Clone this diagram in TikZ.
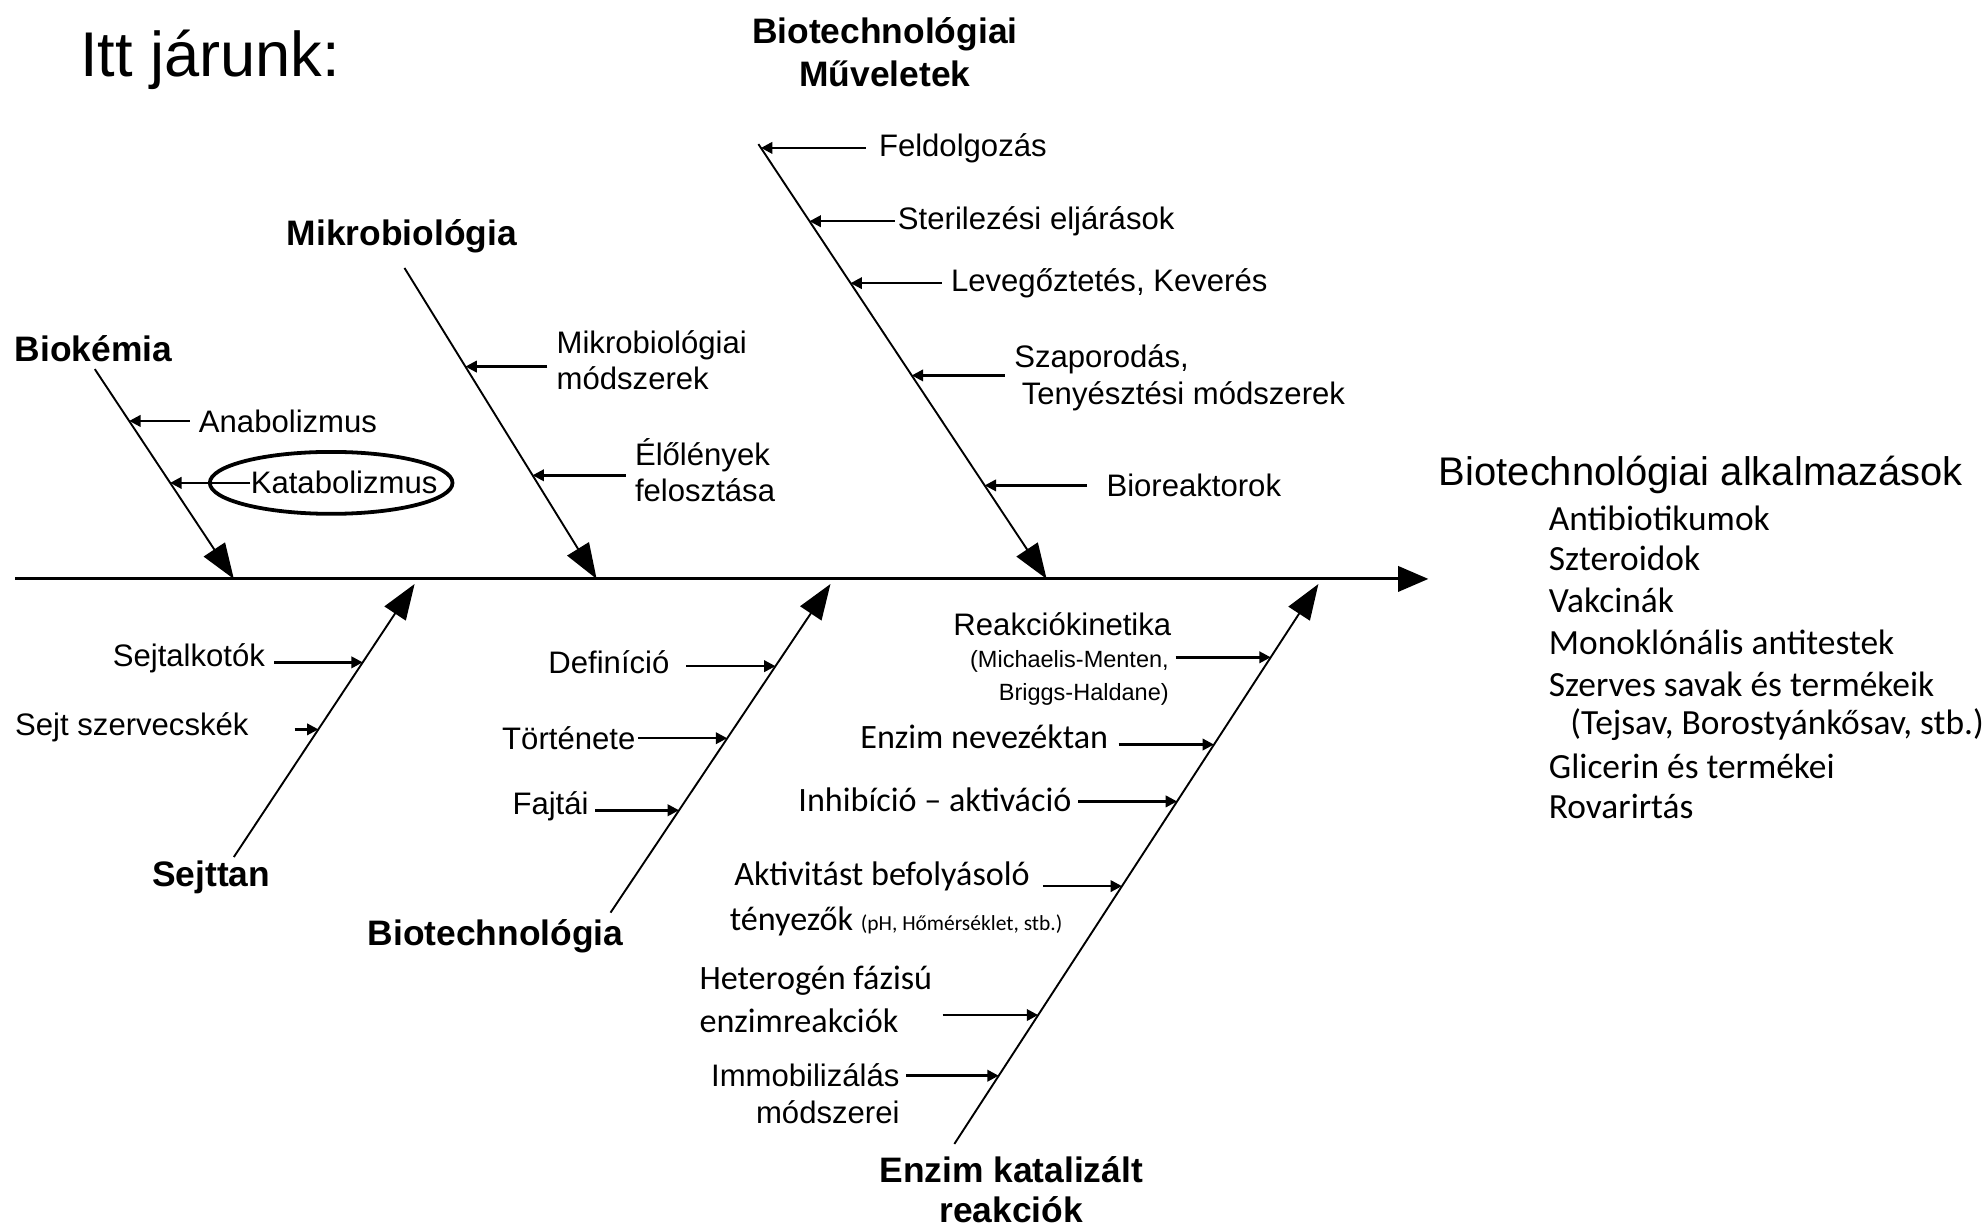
\documentclass[tikz,border=0pt]{standalone}
\usepackage{fontspec}
\setmainfont{Liberation Sans}
\newfontfamily\calib{Carlito}
\usetikzlibrary{arrows.meta,shapes.geometric}
\begin{document}
\begin{tikzpicture}[x=0.5pt,y=-0.5pt,
  branch/.style={line width=0.75pt,-{Triangle[length=14pt,width=10pt]}},
  spine/.style={line width=1.2pt,-{Triangle[length=12pt,width=10pt]}},
  sub/.style={line width=1pt,-{Triangle[length=4.5pt,width=4.5pt]}},
  head/.style={font=\bfseries\fontsize{14}{17}\selectfont,inner sep=0pt,align=center},
  sm/.style={font=\fontsize{12.3}{14.5}\selectfont,inner sep=0pt},
  cb/.style={font=\calib\fontsize{13.5}{17}\selectfont,inner sep=0pt},
  lst/.style={font=\calib\fontsize{14}{17}\selectfont,inner sep=0pt,anchor=west}]
\useasboundingbox (0,0) rectangle (1568,970);

% title
\node[font=\fontsize{25}{30}\selectfont,inner sep=0pt,anchor=west] (title) at (63,47) {Itt járunk:};

% spine
\coordinate (sp0) at (12,458);
\coordinate (sp1) at (1130,458);
\draw[spine] (sp0) -- (sp1);

% branch coordinates
\coordinate (s1) at (75,292);   \coordinate (t1) at (185,458);
\coordinate (s2) at (320,212);  \coordinate (t2) at (472,458);
\coordinate (s3) at (600,114);  \coordinate (t3) at (828,458);
\coordinate (s4) at (185,678);  \coordinate (t4) at (328,462);
\coordinate (s5) at (483,722);  \coordinate (t5) at (657,462);
\coordinate (s6) at (755,905);  \coordinate (t6) at (1043,462);
\draw[branch] (s1) -- (t1);
\draw[branch] (s2) -- (t2);
\draw[branch] (s3) -- (t3);
\draw[branch] (s4) -- (t4);
\draw[branch] (s5) -- (t5);
\draw[branch] (s6) -- (t6);

% headings
\node[head] (biokem) at (74,276) {Biokémia};
\node[head] (mikro) at (318,187) {Mikrobiológia};
\node[head] (muv) at (700,41) {Biotechnológiai\\Műveletek};
\node[head] (sejttan) at (167,694) {Sejttan};
\node[head] (biotech) at (392,741) {Biotechnológia};
\node[head,font=\bfseries\fontsize{14}{16}\selectfont] (enzim) at (800,941) {Enzim katalizált\\reakciók};

% Biokémia
\coordinate (p11) at (102.2,333);
\coordinate (p12) at (134.6,382);
\node[sm,anchor=west] (anab) at (157,333) {Anabolizmus};
\node[sm,anchor=west] (katab) at (198,382) {Katabolizmus};
\node[draw,ellipse,line width=1.5pt,minimum width=96pt,minimum height=24.5pt,inner sep=0pt] (circ) at (262,382) {};
\draw[sub] ([xshift=-3.5pt]anab.west) -- (p11);
\draw[sub] (katab.west) -- (p12);

% Mikrobiológia
\coordinate (p21) at (368.2,290);
\coordinate (p22) at (421.3,376);
\node[sm,anchor=west,align=left] (mikmod) at (440,285) {Mikrobiológiai\\módszerek};
\node[sm,anchor=west,align=left] (elo) at (502,372) {Élőlények\\felosztása};
\draw[sub] ([xshift=-3.5pt]mikmod.west |- p21) -- (p21);
\draw[sub] ([xshift=-3.5pt]elo.west |- p22) -- (p22);

% Biotechnológiai Műveletek
\coordinate (p31) at (602,117);
\coordinate (p32) at (640.4,175);
\coordinate (p33) at (672.9,224);
\coordinate (p34) at (721.3,297);
\coordinate (p35) at (779,384);
\node[sm,anchor=west] (feld) at (695,117) {Feldolgozás};
\node[sm,anchor=west] (steril) at (710,175) {Sterilezési eljárások};
\node[sm,anchor=west] (levego) at (752,224) {Levegőztetés, Keverés};
\node[sm,anchor=west,align=left] (szap) at (802,299) {Szaporodás,\\\hspace*{3pt}Tenyésztési módszerek};
\node[sm,anchor=west] (biore) at (875,384) {Bioreaktorok};
\draw[sub] ([xshift=-5pt]feld.west) -- (p31);
\draw[sub] ([xshift=-1pt]steril.west) -- (p32);
\draw[sub] ([xshift=-3.5pt]levego.west) -- (p33);
\draw[sub] ([xshift=-3.5pt]szap.west |- p34) -- (p34);
\draw[sub] ([xshift=-7.5pt]biore.west) -- (p35);

% Sejttan
\coordinate (p41) at (287,524);
\coordinate (p42) at (251.9,577);
\node[sm,anchor=east] (sejtalk) at (210,521) {Sejtalkotók};
\node[sm,anchor=east] (sejtsz) at (197,575) {Sejt szervecskék};
\draw[sub] ([xshift=3.5pt]sejtalk.east |- p41) -- (p41);
\draw[sub] ([xshift=18pt]sejtsz.east |- p42) -- (p42);

% Biotechnológia
\coordinate (p51) at (613.5,527);
\coordinate (p52) at (575.3,584);
\coordinate (p53) at (537.2,641);
\node[sm,anchor=east] (defin) at (530,524) {Definíció};
\node[sm,anchor=east] (tort) at (503,584) {Története};
\node[sm,anchor=east] (fajt) at (466,638) {Fajtái};
\draw[sub] ([xshift=6.5pt]defin.east |- p51) -- (p51);
\draw[sub] ([xshift=1pt]tort.east |- p52) -- (p52);
\draw[sub] ([xshift=2.5pt]fajt.east |- p53) -- (p53);

% Enzim katalizált reakciók
\coordinate (p61) at (1005.3,520);
\coordinate (p62) at (960.4,589);
\coordinate (p63) at (931.2,634);
\coordinate (p64) at (887.6,701);
\coordinate (p65) at (821.3,803);
\coordinate (p66) at (790.1,851);
\node[sm,anchor=east] (reakc) at (927,494) {Reakciókinetika};
\node[font=\fontsize{9.3}{13}\selectfont,inner sep=0pt,anchor=east,align=right] (mich) at (925,536) {(Michaelis-Menten,\\Briggs-Haldane)};
\node[cb,anchor=east] (enev) at (877,583) {Enzim nevezéktan};
\node[cb,anchor=east] (inhib) at (848,633) {Inhibíció – aktiváció};
\node[cb,anchor=east] (aktiv) at (815,693) {Aktivitást befolyásoló};
\node[cb,anchor=west] (teny) at (577,729) {tényezők {\fontsize{8.5}{10}\selectfont(pH, Hőmérséklet, stb.)}};
\node[cb,anchor=west,align=left] (hetero) at (553,791) {Heterogén fázisú\\enzimreakciók};
\node[sm,anchor=east,align=right] (immob) at (712,865) {Immobilizálás\\módszerei};
\draw[sub] ([xshift=2.5pt]mich.east |- p61) -- (p61);
\draw[sub] ([xshift=4pt]enev.east |- p62) -- (p62);
\draw[sub] ([xshift=2.5pt]inhib.east |- p63) -- (p63);
\draw[sub] ([xshift=5pt]aktiv.east |- p64) -- (p64);
\draw[sub] ([xshift=4pt]hetero.east |- p65) -- (p65);
\draw[sub] ([xshift=2.5pt]immob.east |- p66) -- (p66);

% applications
\node[font=\fontsize{15.8}{19}\selectfont,inner sep=0pt,anchor=west] (alk) at (1138,376) {Biotechnológiai alkalmazások};
\node[lst] (l1) at (1225,410) {Antibiotikumok};
\node[lst] (l2) at (1225,442) {Szteroidok};
\node[lst] (l3) at (1225,475) {Vakcinák};
\node[lst] (l4) at (1225,508) {Monoklónális antitestek};
\node[lst] (l5) at (1225,541) {Szerves savak és termékeik};
\node[lst] (l6) at (1242,573) {(Tejsav, Borostyánkősav, stb.)};
\node[lst] (l7) at (1225,606) {Glicerin és termékei};
\node[lst] (l8) at (1225,638) {Rovarirtás};
\end{tikzpicture}
\end{document}
